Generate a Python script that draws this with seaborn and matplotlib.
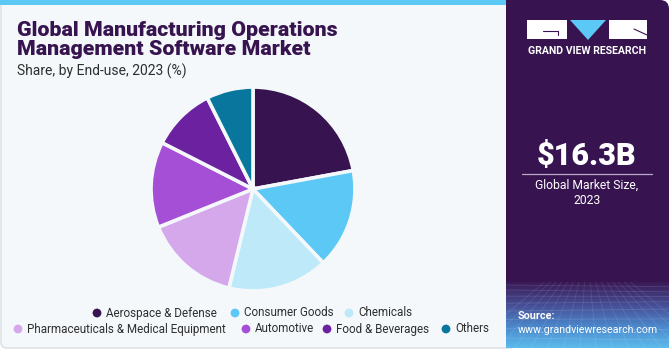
import numpy as np
import matplotlib
matplotlib.use("Agg")
import matplotlib.pyplot as plt
from matplotlib.patches import FancyBboxPatch, Rectangle, Polygon
import seaborn as sns

# End-use shares, 2023 (%)
segments = ["Aerospace & Defense", "Consumer Goods", "Chemicals",
            "Pharmaceuticals & Medical Equipment", "Automotive",
            "Food & Beverages", "Others"]
shares = [22.1, 15.8, 15.9, 15.1, 13.6, 10.1, 7.4]
seg_colors = ["#371450", "#5BC8F5", "#BDE9F9", "#D5A8EC", "#A54FD6", "#6C22A0", "#09769E"]

title_lines = ["Global Manufacturing Operations", "Management Software Market"]
subtitle = "Share, by End-use, 2023 (%)"
market_size = "$16.3B"
market_caption = "Global Market Size,\n2023"

sns.set_theme(style="white")
plt.rcParams["font.family"] = ["Roboto", "DejaVu Sans"]

W, H = 670, 350
fig = plt.figure(figsize=(W / 100, H / 100), dpi=100)
fig.patch.set_facecolor("white")

# Pixel-space canvas for the panels and text
bg = fig.add_axes([0, 0, 1, 1])
bg.set_xlim(0, W)
bg.set_ylim(H, 0)
bg.axis("off")

# Left content panel with light border and blue top stripe
bg.add_patch(FancyBboxPatch((1, 1), 515, 347, boxstyle="round,pad=0,rounding_size=6",
                            facecolor="#F4F8FB", edgecolor="#D9DEE3", lw=1.0, zorder=0))
bg.add_patch(Rectangle((0, 0), 510, 5, facecolor="#5BC8F5", edgecolor="none", zorder=1))

# Right dark panel
panel_x = 506
bg.add_patch(FancyBboxPatch((panel_x, 0), W - panel_x - 1, 348,
                            boxstyle="round,pad=0,rounding_size=9",
                            facecolor="#371450", edgecolor="none", zorder=2))
bg.add_patch(Rectangle((panel_x, 0), 20, 348, facecolor="#371450", edgecolor="none", zorder=2))

# Gradient band at the bottom of the dark panel
grad_top, grad_bot = 282, 348
stops = np.array([[0.0, 0x3A, 0x1A, 0x55], [0.35, 0x47, 0x4E, 0x96],
                  [0.7, 0x4C, 0x8C, 0xCF], [1.0, 0x5C, 0xBB, 0xEC]])
t = np.linspace(0, 1, 120)
rgb = np.stack([np.interp(t, stops[:, 0], stops[:, i]) for i in (1, 2, 3)], axis=1) / 255
img = np.repeat(rgb[:, None, :], 2, axis=1)
bg.imshow(img, extent=(panel_x, W - 1, grad_bot, grad_top), aspect="auto", zorder=3,
          interpolation="bilinear")
# Faint mesh lines
for k in range(1, 9):
    yy = grad_top + (grad_bot - grad_top) * (k / 9) ** 1.4
    bg.plot([panel_x, W - 1], [yy, yy + 2 * np.sin(k)], color="white", alpha=0.12, lw=0.6, zorder=4)
for xx in np.linspace(panel_x - 40, W + 40, 16):
    bg.plot([587 + (xx - 587) * 0.35, xx], [grad_top, grad_bot], color="white", alpha=0.1, lw=0.6, zorder=4)

# Logo
bg.add_patch(Rectangle((527, 20), 40, 19, facecolor="white", edgecolor="none", zorder=5))
bg.plot([543, 558, 558], [31, 31, 35], color="#371450", lw=0.8, zorder=6)
bg.add_patch(Polygon([(570, 20), (606, 20), (588, 40)], closed=True, facecolor="#5BC8F5",
                     edgecolor="none", zorder=5))
bg.add_patch(Rectangle((609, 20), 38, 19, facecolor="white", edgecolor="none", zorder=5))
bg.plot([634, 647], [29, 35], color="#371450", lw=0.8, zorder=6)
bg.text(587, 51, "GRAND VIEW RESEARCH", color="white", fontsize=7.6, fontweight="bold",
        ha="center", va="center", zorder=6)

# Market size block
bg.text(587, 156, market_size, color="white", fontsize=22, fontweight="black",
        ha="center", va="center", zorder=6)
bg.plot([522, 652], [173.5, 173.5], color="#B9A8C8", lw=0.9, zorder=6)
bg.text(587, 193, market_caption, color="white", fontsize=8.7, ha="center", va="center",
        linespacing=1.2, zorder=6)

# Source note
bg.text(518, 316, "Source:", color="white", fontsize=7.8, fontweight="bold",
        ha="left", va="center", zorder=6)
bg.text(518, 330, "www.grandviewresearch.com", color="white", fontsize=7.7,
        ha="left", va="center", zorder=6)

# Titles
title_color = "#371450"
bg.text(17, 55, "\n".join(title_lines), color=title_color, fontsize=15.4, fontweight="black",
        ha="left", va="baseline", linespacing=0.98)
bg.text(17, 76, subtitle, color="#2E2E2E", fontsize=10, ha="left", va="baseline")

# Pie chart
cx, cy, r = 253, 189, 104
pie_ax = fig.add_axes([(cx - r) / W, (H - cy - r) / H, 2 * r / W, 2 * r / H])
pie_ax.pie(shares, colors=seg_colors, startangle=90, counterclock=False, radius=1,
           wedgeprops=dict(edgecolor="#F4F8FB", linewidth=2.6))
pie_ax.set_xlim(-1.02, 1.02)
pie_ax.set_ylim(-1.02, 1.02)
pie_ax.set_aspect("equal")
pie_ax.axis("off")

# Legend
legend_rows = [
    [(0, 97), (1, 235), (2, 349)],
    [(3, 18), (4, 246), (5, 327), (6, 446)],
]
row_y = [313, 329]
for row, yy in zip(legend_rows, row_y):
    for idx, xd in row:
        bg.scatter([xd], [yy], s=40, color=seg_colors[idx], edgecolors="none", zorder=6)
        bg.text(xd + 9, yy, segments[idx], color="#2E2E2E", fontsize=8.4,
                ha="left", va="center", zorder=6)

fig.savefig("out.png", dpi=100, facecolor=fig.get_facecolor())
